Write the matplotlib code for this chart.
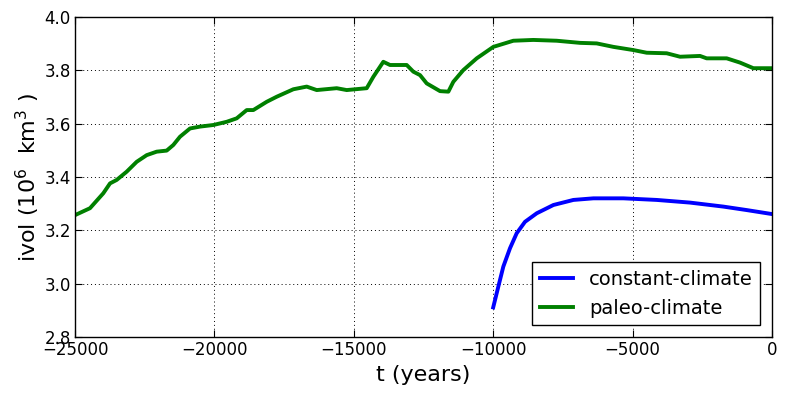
import matplotlib
matplotlib.use("Agg")
import matplotlib.pyplot as plt

# paleo-climate series (green)
paleo_t = [-25000, -24462, -23985, -23744, -23505, -23146, -22787, -22428, -22070, -21711,
           -21474, -21234, -20875, -20516, -20039, -19559, -19200, -18841, -18604, -18124,
           -17765, -17169, -16689, -16330, -15613, -15254, -14537, -14298, -13941, -13701,
           -13102, -12865, -12624, -12385, -11907, -11608, -11430, -11071, -10591, -9995,
           -9278, -8561, -7722, -6885, -6287, -5690, -4973, -4494, -3777, -3299,
           -2582, -2343, -1625, -1147, -669, 0]
paleo_v = [3.257, 3.283, 3.339, 3.376, 3.389, 3.420, 3.457, 3.482, 3.495, 3.499,
           3.520, 3.551, 3.582, 3.589, 3.595, 3.607, 3.620, 3.651, 3.651, 3.682,
           3.701, 3.729, 3.739, 3.726, 3.733, 3.726, 3.733, 3.776, 3.832, 3.820,
           3.820, 3.795, 3.782, 3.751, 3.722, 3.720, 3.757, 3.801, 3.845, 3.888,
           3.911, 3.914, 3.911, 3.903, 3.901, 3.888, 3.876, 3.866, 3.864, 3.851,
           3.854, 3.845, 3.845, 3.829, 3.808, 3.808]

# constant-climate series (blue)
const_t = [-10000, -9816, -9637, -9397, -9158, -8859, -8438, -7841, -7124, -6407,
           -5332, -4136, -2940, -1745, -908, 0]
const_v = [2.911, 2.989, 3.064, 3.133, 3.189, 3.232, 3.264, 3.295, 3.314, 3.320,
           3.320, 3.314, 3.304, 3.289, 3.276, 3.261]

fig = plt.figure(figsize=(7.86, 3.98), dpi=100)
ax = fig.add_axes([75/786, 61/398, 697/786, 320/398])

ax.plot(const_t, const_v, color='blue', lw=2.8, label='constant-climate')
ax.plot(paleo_t, paleo_v, color='green', lw=2.8, label='paleo-climate')

ax.set_xlim(-25000, 0)
ax.set_ylim(2.8, 4.0)
ax.set_xticks([-25000, -20000, -15000, -10000, -5000, 0])
ax.set_yticks([2.8, 3.0, 3.2, 3.4, 3.6, 3.8, 4.0])
ax.tick_params(direction='in', top=True, right=True, labelsize=12, length=5, width=0.8, pad=3)
ax.grid(True, color='black', linestyle=(0, (1, 3)), linewidth=0.7)
for s in ax.spines.values():
    s.set_linewidth(1.0)

ax.set_xlabel('t (years)', fontsize=16)
ax.set_ylabel(r'ivol ($10^6$  km$^3$ )', fontsize=16, labelpad=2)

leg = ax.legend(loc='lower right', fontsize=14, fancybox=False, framealpha=1,
                edgecolor='black', handlelength=1.7, borderaxespad=0.6)
leg.get_frame().set_linewidth(1.0)

fig.savefig('out.png', dpi=100, facecolor='white')
